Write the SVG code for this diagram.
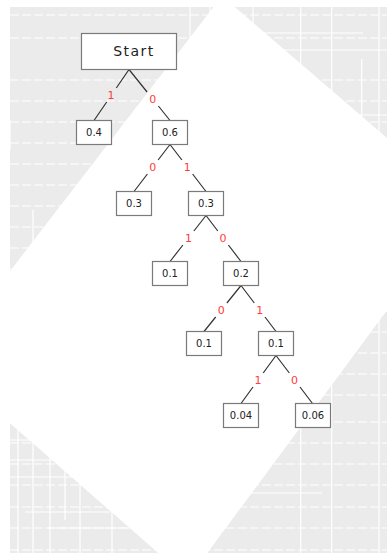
<svg xmlns="http://www.w3.org/2000/svg" width="387" height="553" viewBox="0 0 387 553">
<style>
.box{fill:#ffffff;stroke:#7a7a7a;stroke-width:1.2}
.num{font-family:"DejaVu Sans","Liberation Sans",sans-serif;font-size:10px;fill:#222;text-anchor:middle}
.start{font-family:"DejaVu Sans","Liberation Sans",sans-serif;font-size:14px;fill:#222;text-anchor:middle;letter-spacing:1.5px}
.lbl{font-family:"DejaVu Sans","Liberation Sans",sans-serif;font-size:11px;fill:#ff3b3b;text-anchor:middle}
.edge{fill:none;stroke:#333;stroke-width:1.2}
.dash{stroke:#ffffff;stroke-width:1;stroke-dasharray:9 3;fill:none}
.solid{stroke:#ffffff;stroke-width:1.2;fill:none}
</style>
<defs>
<clipPath id="bgclip"><rect x="10" y="7" width="377" height="546"/></clipPath>
</defs>
<rect x="0" y="0" width="387" height="553" fill="#ffffff"/>
<g id="background" clip-path="url(#bgclip)">
<rect x="10" y="7" width="377" height="546" fill="#ebebeb"/>
<g class="dash">
<path d="M10,15H387M10,38H387M10,80H387M10,101H387M10,122H387M10,143H387M10,164H387M10,185H387M10,206H387M10,227H387M10,248H387M10,269H387M10,290H387M10,311H387M10,332H387M10,353H387M10,374H387M10,395H387M10,422H387M10,443H387M10,464H387M10,485H387M10,507H387M10,528H387M10,550H387"/>
</g>
<g class="solid">
<path d="M190,7V43M210,7V25M253,7V150M300.7,7V553M331.7,7V553M379,7V553M361.7,59V160M257,33H363M263,50H387M263,115H387M18,420V553M33,420V553M50,420V553M65,440V520M80,420V553M112,440V553M10,440H200M10,460H200M10,477H200M25,512H110M48,528H160M247,493H322M190,475H260M33,210V260M10,120V150"/>
</g>
<polygon points="222,-4 465,205 188,579 -60,362" fill="#ffffff"/>
</g>
<g id="connectors">
<path class="edge" d="M129,69.5L116.3,88M106.7,102L94,120.5"/>
<path class="edge" d="M129,69.5L147.1,92M158.4,106L170,120.5"/>
<path class="edge" d="M170,144.5L158.1,160M147.4,174L134,191.5"/>
<path class="edge" d="M170,144.5L181.9,160M192.6,174L206,191.5"/>
<path class="edge" d="M206,215.5L193.9,231M182.9,245L170,261.5"/>
<path class="edge" d="M206,215.5L217.8,231M228.4,245L241,261.5"/>
<path class="edge" d="M241,285.5L226.9,303M215.7,317L204,331.5"/>
<path class="edge" d="M241,285.5L254.3,303M265,317L276,331.5"/>
<path class="edge" d="M276,355.5L263.2,373M253,387L241,403.5"/>
<path class="edge" d="M276,355.5L289.3,373M300,387L312.5,403.5"/>
<text class="lbl" x="111" y="99">1</text>
<text class="lbl" x="152.7" y="103">0</text>
<text class="lbl" x="152.8" y="171">0</text>
<text class="lbl" x="187.2" y="171">1</text>
<text class="lbl" x="188.4" y="242">1</text>
<text class="lbl" x="223.1" y="242">0</text>
<text class="lbl" x="221.3" y="314">0</text>
<text class="lbl" x="259.7" y="314">1</text>
<text class="lbl" x="258.1" y="384">1</text>
<text class="lbl" x="294.6" y="384">0</text>
</g>
<g id="n_start"><rect class="box" x="81.5" y="33.5" width="95" height="36"/><text class="start" x="134" y="56">Start</text></g>
<g id="n_04"><rect class="box" x="76.5" y="120.5" width="35" height="24"/><text class="num" x="94" y="136">0.4</text></g>
<g id="n_06"><rect class="box" x="152.5" y="120.5" width="35" height="24"/><text class="num" x="170" y="136">0.6</text></g>
<g id="n_03a"><rect class="box" x="116.5" y="191.5" width="35" height="24"/><text class="num" x="134" y="207">0.3</text></g>
<g id="n_03b"><rect class="box" x="188.5" y="191.5" width="35" height="24"/><text class="num" x="206" y="207">0.3</text></g>
<g id="n_01a"><rect class="box" x="152.5" y="261.5" width="35" height="24"/><text class="num" x="170" y="277">0.1</text></g>
<g id="n_02"><rect class="box" x="223.5" y="261.5" width="35" height="24"/><text class="num" x="241" y="277">0.2</text></g>
<g id="n_01b"><rect class="box" x="186.5" y="331.5" width="35" height="24"/><text class="num" x="204" y="347">0.1</text></g>
<g id="n_01c"><rect class="box" x="258.5" y="331.5" width="35" height="24"/><text class="num" x="276" y="347">0.1</text></g>
<g id="n_004"><rect class="box" x="223.5" y="403.5" width="35" height="24"/><text class="num" x="241" y="419">0.04</text></g>
<g id="n_006"><rect class="box" x="295.5" y="403.5" width="35" height="24"/><text class="num" x="313" y="419">0.06</text></g>
</svg>
